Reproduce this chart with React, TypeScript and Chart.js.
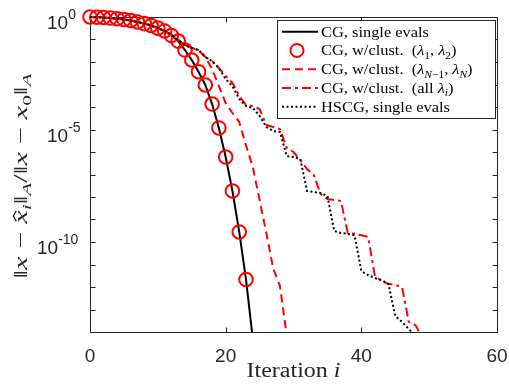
import React, { useEffect, useRef } from "react";
import { Chart, registerables } from "chart.js";

Chart.register(...registerables);

// ---------------- data ----------------
const cgSingle = [
  1, 0.98, 0.95, 0.9, 0.84, 0.77, 0.7, 0.6, 0.51, 0.42, 0.32, 0.24, 0.15, 0.085, 0.034, 0.0123,
  3.7e-3, 9.5e-4, 1.35e-4, 1.17e-5, 6.0e-7, 1.85e-8, 2.8e-10, 2.15e-12, 5e-15,
];
const cgClust12 = [
  1, 0.98, 0.95, 0.9, 0.84, 0.77, 0.7, 0.6, 0.51, 0.42, 0.32, 0.24, 0.15, 0.085, 0.034, 0.0123,
  3.7e-3, 9.5e-4, 1.35e-4, 1.17e-5, 6.0e-7, 1.85e-8, 2.8e-10, 2.15e-12,
];
const cgClustN = [
  1, 0.98, 0.95, 0.9, 0.84, 0.77, 0.7, 0.6, 0.51, 0.42, 0.32, 0.24, 0.16, 0.095, 0.057, 0.042,
  0.034, 0.0166, 4.9e-3, 8.5e-4, 1.5e-4, 5.4e-5, 2.15e-5, 2.0e-6, 2.15e-7, 7.4e-9, 2.5e-10,
  6.9e-12, 1.1e-12, 7.4e-15,
];
const cgClustAll = [
  1, 0.98, 0.95, 0.9, 0.84, 0.77, 0.7, 0.6, 0.51, 0.42, 0.32, 0.24, 0.16, 0.095, 0.057, 0.042,
  0.034, 0.0166, 0.011, 5.4e-3, 2.4e-3, 1.17e-3, 3.1e-4, 1.23e-4, 1.1e-4, 8.1e-5, 1.6e-5, 1.3e-5,
  1.05e-5, 1.5e-6, 1.0e-6, 4.4e-7, 1.75e-7, 9.5e-8, 1.36e-8, 8.1e-9, 7.4e-9, 6.6e-9, 2.5e-10,
  2.3e-10, 2.0e-10, 1.67e-10, 3.1e-12, 1.85e-12, 1.35e-12, 1.23e-12, 1.0e-12, 2.8e-14, 2.0e-14,
  5.4e-15,
];
const hscgSingle = [
  1, 0.98, 0.95, 0.9, 0.84, 0.77, 0.7, 0.6, 0.51, 0.42, 0.32, 0.24, 0.16, 0.095, 0.057, 0.042,
  0.034, 0.0166, 0.011, 5.4e-3, 1.75e-3, 8.5e-4, 2.3e-4, 1.1e-4, 9.1e-5, 4.0e-5, 1.3e-5, 8.5e-6,
  7.8e-6, 6.6e-7, 6.0e-7, 4.9e-7, 1.85e-8, 1.67e-8, 1.5e-8, 1.1e-8, 3.1e-10, 2.5e-10, 2.3e-10,
  2.0e-10, 5.1e-12, 3.4e-12, 2.5e-12, 2.0e-12, 1.35e-12, 5.1e-14, 2.8e-14, 1.35e-14, 6.6e-15,
];

const xTicks = [0, 20, 40, 60];
const xTickLabels = ["0", "20", "40", "60"];
const yDecadeTicks = [1, 1e-1, 1e-2, 1e-3, 1e-4, 1e-5, 1e-6, 1e-7, 1e-8, 1e-9, 1e-10, 1e-11, 1e-12, 1e-13, 1e-14];
const yLabelTicks = [1, 1e-5, 1e-10];
const yLabelExps = ["0", "-5", "-10"];

// ---------------- styling ----------------
const AXIS = "#262626";
const SANS = '"Liberation Sans", Arial, sans-serif';
const SERIF = '"Liberation Serif", "Times New Roman", serif';

type Seg = { t: string; it?: boolean; sub?: boolean; sup?: boolean; hat?: boolean };

function segFont(s: Seg, size: number, fam: string) {
  const sz = s.sub || s.sup ? size * 0.7 : size;
  return `${s.it ? "italic " : ""}${sz}px ${fam}`;
}
function measureRich(ctx: CanvasRenderingContext2D, segs: Seg[], size: number, fam: string) {
  let w = 0;
  for (const s of segs) {
    ctx.font = segFont(s, size, fam);
    w += ctx.measureText(s.t).width;
  }
  return w;
}
function drawRich(
  ctx: CanvasRenderingContext2D,
  segs: Seg[],
  x: number,
  y: number,
  size: number,
  fam: string,
  align: "left" | "center",
  sx = 1
) {
  const w = measureRich(ctx, segs, size, fam);
  ctx.save();
  ctx.translate(x, y);
  ctx.scale(sx, 1);
  ctx.textAlign = "left";
  ctx.textBaseline = "alphabetic";
  let cx = align === "center" ? -w / 2 : 0;
  for (const s of segs) {
    ctx.font = segFont(s, size, fam);
    const dy = s.sub ? size * 0.22 : s.sup ? -size * 0.4 : 0;
    const tw = ctx.measureText(s.t).width;
    ctx.fillText(s.t, cx, dy);
    if (s.hat) {
      ctx.save();
      ctx.strokeStyle = ctx.fillStyle as string;
      ctx.lineWidth = 1.1;
      ctx.beginPath();
      const c = cx + tw * 0.58;
      ctx.moveTo(c - size * 0.17, dy - size * 0.56);
      ctx.lineTo(c, dy - size * 0.72);
      ctx.lineTo(c + size * 0.17, dy - size * 0.56);
      ctx.stroke();
      ctx.restore();
    }
    cx += tw;
  }
  ctx.restore();
}

const legendItems: { segs: Seg[]; kind: string }[] = [
  { kind: "solid", segs: [{ t: "CG, single evals" }] },
  {
    kind: "circle",
    segs: [
      { t: "CG, w/clust.  (" },
      { t: "λ", it: true },
      { t: "1", sub: true },
      { t: ", " },
      { t: "λ", it: true },
      { t: "2", sub: true },
      { t: ")" },
    ],
  },
  {
    kind: "dash",
    segs: [
      { t: "CG, w/clust.  (" },
      { t: "λ", it: true },
      { t: "N", it: true, sub: true },
      { t: "−1", sub: true },
      { t: ", " },
      { t: "λ", it: true },
      { t: "N", it: true, sub: true },
      { t: ")" },
    ],
  },
  {
    kind: "dashdot",
    segs: [{ t: "CG, w/clust.  (all " }, { t: "λ", it: true }, { t: "i", it: true, sub: true }, { t: ")" }],
  },
  { kind: "dot", segs: [{ t: "HSCG, single evals" }] },
];

const yLabelSegs: Seg[] = [
  { t: "‖" },
  { t: "x", it: true },
  { t: " − " },
  { t: "x", it: true, hat: true },
  { t: "i", it: true, sub: true },
  { t: "‖" },
  { t: "A", it: true, sub: true },
  { t: "/" },
  { t: "‖" },
  { t: "x", it: true },
  { t: " − " },
  { t: "x", it: true },
  { t: "0", sub: true },
  { t: "‖" },
  { t: "A", it: true, sub: true },
];
const xLabelSegs: Seg[] = [{ t: "Iteration " }, { t: "i", it: true }];

const decor = {
  id: "decor",
  beforeDatasetsDraw(chart: any) {
    const { ctx, chartArea: a, scales } = chart;
    ctx.save();
    ctx.strokeStyle = AXIS;
    ctx.lineWidth = 1;
    const L = Math.round(a.left) + 0.5,
      R = Math.round(a.right) + 0.5,
      T = Math.round(a.top) + 0.5,
      B = Math.round(a.bottom) + 0.5;
    ctx.beginPath();
    ctx.rect(L, T, R - L, B - T);
    for (const v of yDecadeTicks) {
      const y = Math.round(scales.y.getPixelForValue(v)) + 0.5;
      ctx.moveTo(L, y);
      ctx.lineTo(L + 5, y);
      ctx.moveTo(R, y);
      ctx.lineTo(R - 5, y);
    }
    for (const v of xTicks) {
      const x = Math.round(scales.x.getPixelForValue(v)) + 0.5;
      ctx.moveTo(x, B);
      ctx.lineTo(x, B - 5);
      ctx.moveTo(x, T);
      ctx.lineTo(x, T + 5);
    }
    ctx.stroke();
    ctx.restore();
  },
  afterDraw(chart: any) {
    const { ctx, chartArea: a, scales } = chart;
    ctx.save();
    ctx.fillStyle = AXIS;
    // x tick labels
    ctx.font = `19px ${SANS}`;
    ctx.textAlign = "center";
    ctx.textBaseline = "alphabetic";
    xTicks.forEach((v, k) => {
      ctx.fillText(xTickLabels[k], scales.x.getPixelForValue(v), a.bottom + 30);
    });
    // y tick labels 10^e
    yLabelTicks.forEach((v, k) => {
      const y = scales.y.getPixelForValue(v);
      const e = yLabelExps[k];
      const left = a.left - 43 - (e.length > 2 ? 10 : 0);
      ctx.textAlign = "left";
      ctx.font = `19px ${SANS}`;
      ctx.fillText("10", left, y + 12);
      const bw = ctx.measureText("10").width;
      ctx.font = `14px ${SANS}`;
      ctx.fillText(e, left + bw, y + 2);
    });
    // x label
    ctx.fillStyle = AXIS;
    {
      const size = 20;
      const w = measureRich(ctx, xLabelSegs, size, SERIF);
      drawRich(ctx, xLabelSegs, (a.left + a.right) / 2, a.bottom + 45, size, SERIF, "center", 94 / w);
    }
    // y label
    {
      const size = 19;
      const w = measureRich(ctx, yLabelSegs, size, SERIF);
      ctx.save();
      ctx.translate(27, 176);
      ctx.rotate(-Math.PI / 2);
      drawRich(ctx, yLabelSegs, 0, 0, size, SERIF, "center", 205 / w);
      ctx.restore();
    }
    // legend
    const bx = 277.5,
      by = 20.5,
      bw = 218,
      bh = 98;
    ctx.fillStyle = "#ffffff";
    ctx.fillRect(bx, by, bw, bh);
    ctx.strokeStyle = AXIS;
    ctx.lineWidth = 1;
    ctx.strokeRect(bx, by, bw, bh);
    const lsize = 15.5;
    const baseW = measureRich(ctx, legendItems[0].segs, lsize, SERIF);
    const lsx = 108 / baseW;
    legendItems.forEach((it, k) => {
      const cy = 31.7 + k * 18.75;
      ctx.save();
      ctx.lineWidth = 2;
      ctx.setLineDash([]);
      if (it.kind === "circle") {
        ctx.strokeStyle = "#ff0000";
        ctx.beginPath();
        ctx.arc(297, cy, 6.5, 0, Math.PI * 2);
        ctx.stroke();
      } else {
        if (it.kind === "solid") ctx.strokeStyle = "#000000";
        if (it.kind === "dash") {
          ctx.strokeStyle = "#ff0000";
          ctx.setLineDash([8, 5]);
        }
        if (it.kind === "dashdot") {
          ctx.strokeStyle = "#ff0000";
          ctx.setLineDash([9, 4, 3, 4]);
        }
        if (it.kind === "dot") {
          ctx.strokeStyle = "#000000";
          ctx.setLineDash([2, 2.5]);
        }
        ctx.beginPath();
        ctx.moveTo(282, cy);
        ctx.lineTo(318, cy);
        ctx.stroke();
      }
      ctx.restore();
      ctx.fillStyle = "#000000";
      drawRich(ctx, it.segs, 321, cy + 5, lsize, SERIF, "left", lsx);
    });
    ctx.restore();
  },
};

function pts(arr: number[]) {
  return arr.map((v, i) => ({ x: i, y: v }));
}

export default function App() {
  const ref = useRef<HTMLCanvasElement | null>(null);
  useEffect(() => {
    if (!ref.current) return;
    const lineClip = { left: 0, top: 2, right: 0, bottom: 0 };
    const chart = new Chart(ref.current, {
      type: "line",
      data: {
        datasets: [
          {
            label: "CG, single evals",
            data: pts(cgSingle),
            borderColor: "#000000",
            borderWidth: 2,
            pointRadius: 0,
            order: 5,
            clip: lineClip,
          } as any,
          {
            label: "CG, w/clust. (λ1, λ2)",
            data: pts(cgClust12),
            showLine: false,
            pointRadius: 6.8,
            pointBorderWidth: 2,
            pointBorderColor: "#ff0000",
            pointBackgroundColor: "rgba(0,0,0,0)",
            borderColor: "#ff0000",
            order: 4,
            clip: false,
          },
          {
            label: "CG, w/clust. (λN-1, λN)",
            data: pts(cgClustN),
            borderColor: "#ff0000",
            borderWidth: 2,
            borderDash: [8, 5],
            pointRadius: 0,
            order: 3,
            clip: lineClip,
          },
          {
            label: "CG, w/clust. (all λi)",
            data: pts(cgClustAll),
            borderColor: "#ff0000",
            borderWidth: 2,
            borderDash: [9, 4, 3, 4],
            pointRadius: 0,
            order: 2,
            clip: lineClip,
          },
          {
            label: "HSCG, single evals",
            data: pts(hscgSingle),
            borderColor: "#000000",
            borderWidth: 2,
            borderDash: [2, 2.5],
            pointRadius: 0,
            order: 1,
            clip: lineClip,
          },
        ],
      },
      options: {
        animation: false,
        responsive: false,
        devicePixelRatio: 1,
        layout: { padding: { left: 90, top: 17, right: 12, bottom: 56 } },
        plugins: { legend: { display: false }, tooltip: { enabled: false } },
        elements: { line: { tension: 0 } },
        scales: {
          x: { type: "linear", min: 0, max: 60, display: false },
          y: { type: "logarithmic", min: 1e-14, max: 1, display: false },
        },
      },
      plugins: [decor],
    } as any);
    return () => chart.destroy();
  }, []);
  return (
    <div style={{ position: "absolute", left: 0, top: 0, width: 509, height: 388, background: "#fff" }}>
      <canvas ref={ref} width={509} height={388} style={{ display: "block" }} />
    </div>
  );
}
